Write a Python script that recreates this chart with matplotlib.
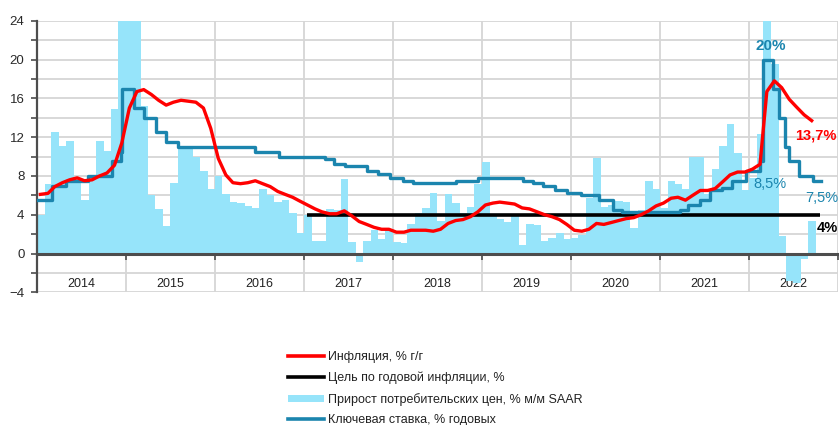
import matplotlib
matplotlib.use("Agg")
import matplotlib.pyplot as plt
import pandas as pd
from matplotlib.patches import Patch
from matplotlib.lines import Line2D

plt.rcParams['font.family'] = ['Liberation Sans', 'DejaVu Sans']

# Прирост потребительских цен, % м/м SAAR (янв 2014 - сен 2022)
cpi_saar = [
    4.0, 7.2, 12.5, 11.1, 11.6, 7.8, 5.5, 8.0, 11.6, 10.6, 14.9, 30.0,
    45.0, 28.0, 15.2, 6.0, 4.6, 2.8, 7.3, 10.8, 10.8, 9.9, 8.5, 6.7,
    8.0, 6.1, 5.3, 5.2, 4.9, 4.7, 6.7, 6.0, 5.3, 5.5, 4.2, 2.1,
    4.0, 1.3, 1.3, 4.6, 4.5, 7.7, 1.2, -0.9, 1.3, 2.4, 1.5, 2.5,
    1.2, 1.1, 3.0, 4.2, 4.7, 6.2, 3.4, 6.1, 5.2, 4.2, 4.8, 7.2,
    9.4, 3.9, 3.6, 3.3, 3.9, 0.9, 3.0, 2.9, 1.3, 1.6, 2.1, 1.5,
    1.6, 1.9, 5.7, 9.8, 4.8, 5.0, 5.4, 5.3, 2.6, 4.5, 7.5, 6.7,
    4.7, 7.5, 7.2, 6.7, 9.9, 9.9, 6.1, 8.7, 11.1, 13.4, 10.4, 6.5,
    7.8, 12.3, 120.0, 19.5, 1.8, -2.8, -3.0, -0.6, 3.4,
]

# Инфляция, % г/г
inflation = [
    6.1, 6.2, 6.9, 7.3, 7.6, 7.8, 7.5, 7.6, 8.0, 8.3, 9.1, 11.4,
    15.0, 16.7, 16.9, 16.4, 15.8, 15.3, 15.6, 15.8, 15.7, 15.6, 15.0, 12.9,
    9.8, 8.1, 7.3, 7.2, 7.3, 7.5, 7.2, 6.9, 6.4, 6.1, 5.8, 5.4,
    5.0, 4.6, 4.3, 4.1, 4.1, 4.4, 3.9, 3.3, 3.0, 2.7, 2.5, 2.5,
    2.2, 2.2, 2.4, 2.4, 2.4, 2.3, 2.5, 3.1, 3.4, 3.5, 3.8, 4.3,
    5.0, 5.2, 5.3, 5.2, 5.1, 4.7, 4.6, 4.3, 4.0, 3.8, 3.5, 3.0,
    2.4, 2.3, 2.5, 3.1, 3.0, 3.2, 3.4, 3.6, 3.7, 4.0, 4.4, 4.9,
    5.2, 5.7, 5.8, 5.5, 6.0, 6.5, 6.5, 6.7, 7.4, 8.1, 8.4, 8.4,
    8.7, 9.2, 16.7, 17.8, 17.1, 15.9, 15.1, 14.3, 13.7,
]

# Ключевая ставка, % годовых (даты изменений)
key_dates = [
    '2014-01-01', '2014-03-03', '2014-04-28', '2014-07-28', '2014-11-05',
    '2014-12-12', '2014-12-16', '2015-02-02', '2015-03-16', '2015-05-05',
    '2015-06-16', '2015-08-03', '2016-06-14', '2016-09-19', '2017-03-27',
    '2017-05-02', '2017-06-19', '2017-09-18', '2017-10-30', '2017-12-18',
    '2018-02-12', '2018-03-26', '2018-09-17', '2018-12-17', '2019-06-17',
    '2019-07-29', '2019-09-09', '2019-10-28', '2019-12-16', '2020-02-10',
    '2020-04-27', '2020-06-22', '2020-07-27', '2021-03-22', '2021-04-26',
    '2021-06-15', '2021-07-26', '2021-09-13', '2021-10-25', '2021-12-20',
    '2022-02-14', '2022-02-28', '2022-04-11', '2022-05-04', '2022-05-27',
    '2022-06-14', '2022-07-25', '2022-09-19', '2022-10-25',
]
key_rates = [
    5.5, 7.0, 7.5, 8.0, 9.5,
    10.5, 17.0, 15.0, 14.0, 12.5,
    11.5, 11.0, 10.5, 10.0, 9.75,
    9.25, 9.0, 8.5, 8.25, 7.75,
    7.5, 7.25, 7.5, 7.75, 7.5,
    7.25, 7.0, 6.5, 6.25, 6.0,
    5.5, 4.5, 4.25, 4.5, 5.0,
    5.5, 6.5, 6.75, 7.5, 8.5,
    9.5, 20.0, 17.0, 14.0, 11.0,
    9.5, 8.0, 7.5, 7.5,
]

# Цель по годовой инфляции, %
target_dates = ['2017-01-15', '2022-10-20']
target_value = 4

years = list(range(2014, 2023))

labels = ['Инфляция, % г/г', 'Цель по годовой инфляции, %',
          'Прирост потребительских цен, % м/м SAAR', 'Ключевая ставка, % годовых']

c_bar = '#96E4FA'
c_red = '#FF0000'
c_teal = '#1B85AE'
c_axis = '#4D4D4D'
c_grid = '#D6D6D6'

months = pd.date_range('2014-01-01', periods=len(cpi_saar), freq='MS')
infl_x = months[:len(inflation)] + pd.Timedelta(days=14)

fig = plt.figure(figsize=(8.39, 4.25), dpi=100)
ax = fig.add_axes([0.0441, 0.3122, 0.9547, 0.639])

ax.bar(months, cpi_saar, width=31, align='edge', color=c_bar, linewidth=0, zorder=1)
ax.plot(pd.to_datetime(target_dates), [target_value] * len(target_dates),
        color='black', lw=2.6, zorder=3, solid_capstyle='butt')
ax.step(pd.to_datetime(key_dates), key_rates, where='post', color=c_teal, lw=2.4, zorder=4)
ax.plot(infl_x, inflation, color=c_red, lw=2.4, zorder=5)

ax.set_xlim(pd.Timestamp('2014-01-01'), pd.Timestamp('2023-01-01'))
ax.set_ylim(-4, 24)

# оси
ax.set_axisbelow(True)
for s in ['top', 'right']:
    ax.spines[s].set_visible(False)
ax.spines['left'].set_color(c_axis)
ax.spines['left'].set_linewidth(1.6)
ax.spines['bottom'].set_position(('data', 0))
ax.spines['bottom'].set_color(c_axis)
ax.spines['bottom'].set_linewidth(2.2)
ax.spines['bottom'].set_zorder(2.5)

ax.set_yticks(range(-4, 25, 4))
ax.set_yticks(range(-4, 25, 2), minor=True)
ax.tick_params(axis='y', which='both', direction='out', length=4, width=1.2,
               color=c_axis, labelsize=9.5, labelcolor='#2a2a2a', pad=5)

year_starts = [pd.Timestamp(f'{y}-01-01') for y in years + [years[-1] + 1]]
year_mids = [pd.Timestamp(f'{y}-07-01') for y in years]
ax.set_xticks(year_starts)
ax.set_xticklabels([])
ax.set_xticks(year_mids, minor=True)
ax.set_xticklabels([str(y) for y in years], minor=True)
ax.tick_params(axis='x', which='major', direction='out', length=4, width=1.2, color=c_axis)
ax.tick_params(axis='x', which='minor', length=0, pad=17.5, labelsize=9, labelcolor='#222222')

ax.grid(True, which='major', axis='x', color=c_grid, lw=1.3)
ax.grid(True, which='minor', axis='y', color=c_grid, lw=1.3)
ax.grid(True, which='major', axis='y', color=c_grid, lw=1.3)

# подписи
ax.text(pd.Timestamp('2022-04-01'), 21.4, '20%', color=c_teal, fontsize=11,
        fontweight='bold', ha='center', va='center')
ax.text(pd.Timestamp('2022-07-10'), 12.2, '13,7%', color=c_red, fontsize=10.5,
        fontweight='bold', ha='left', va='center')
ax.text(pd.Timestamp('2022-01-19'), 7.2, '8,5%', color=c_teal, fontsize=10.5,
        ha='left', va='center')
ax.text(pd.Timestamp('2022-08-20'), 5.75, '7,5%', color=c_teal, fontsize=10.5,
        ha='left', va='center')
ax.text(pd.Timestamp('2022-10-04'), 2.6, '4%', color='black', fontsize=10.5,
        fontweight='bold', ha='left', va='center')

handles = [
    Line2D([], [], color=c_red, lw=2.6),
    Line2D([], [], color='black', lw=2.6),
    Patch(facecolor=c_bar, edgecolor='none'),
    Line2D([], [], color=c_teal, lw=2.6),
]
fig.legend(handles, labels, loc='upper left', bbox_to_anchor=(0.343, 0.173),
           frameon=False, fontsize=9, handlelength=2.9, handleheight=0.6,
           handletextpad=0.35, labelspacing=0.68, borderpad=0, borderaxespad=0,
           labelcolor='#222222')

fig.savefig('out.png', dpi=100, facecolor='white')
